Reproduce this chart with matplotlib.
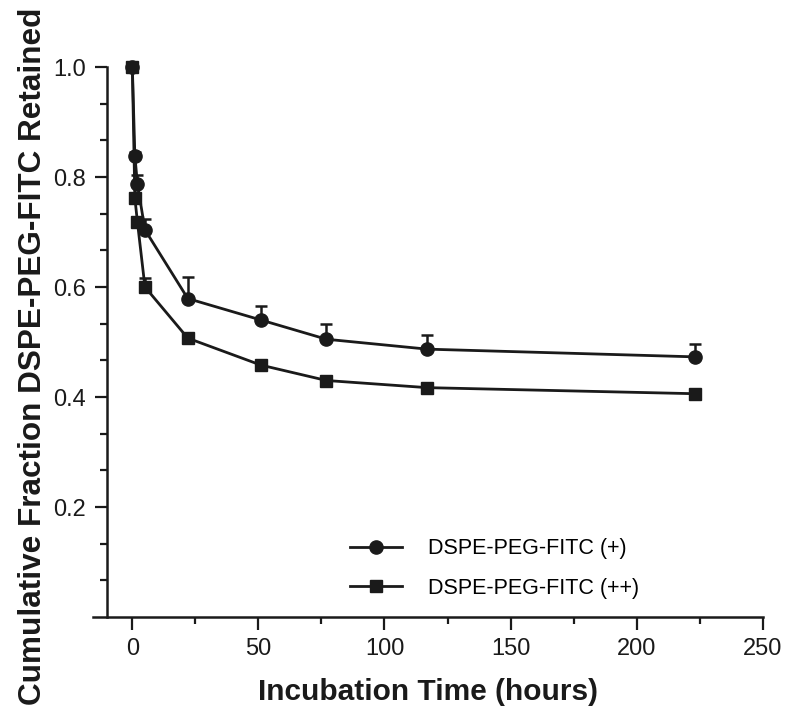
import matplotlib
matplotlib.use("Agg")
import matplotlib.pyplot as plt
import numpy as np
from matplotlib.ticker import MultipleLocator, FixedLocator
from matplotlib.lines import Line2D

# ---- data ----
time_h = [0, 1, 2, 5, 22, 51, 77, 117, 223]
plus_vals = [1.0, 0.839, 0.788, 0.704, 0.579, 0.540, 0.505, 0.487, 0.473]
plus_err = [0.0, 0.006, 0.015, 0.020, 0.039, 0.025, 0.028, 0.026, 0.023]
time_pp = [0, 1, 2, 5, 22, 51, 77, 117, 223]
pp_vals = [1.0, 0.762, 0.719, 0.600, 0.507, 0.458, 0.430, 0.417, 0.406]
pp_err = [0.0, 0.004, 0.008, 0.017, 0.005, 0.004, 0.004, 0.004, 0.004]
labels = ["DSPE-PEG-FITC (+)", "DSPE-PEG-FITC (++)"]
xlabel = "Incubation Time (hours)"
ylabel = "Cumulative Fraction DSPE-PEG-FITC Retained"

font = "Liberation Sans"
col = "#1a1a1a"
fig = plt.figure(figsize=(7.87, 7.16), dpi=100)
ax = fig.add_axes([93/787, 1 - 617/716, (762.7 - 93)/787, (617 - 67)/716])

for t, v, e, mk, ms in [(time_h, plus_vals, plus_err, "o", 9.5),
                        (time_pp, pp_vals, pp_err, "s", 9)]:
    cont = ax.errorbar(t, v, yerr=[np.zeros(len(e)), e], fmt="-" + mk,
                       color=col, ms=ms, lw=2, elinewidth=1.8, capsize=4,
                       capthick=1.8, zorder=3)
    for art in cont.get_children():
        art.set_clip_on(False)

ax.set_xlim(-15.6, 250)
ax.set_ylim(0, 1.0)
for s in ["top", "right"]:
    ax.spines[s].set_visible(False)
ax.spines["left"].set_position(("data", -10.2))
ax.spines["left"].set_bounds(0, 1.0)
for s in ["left", "bottom"]:
    ax.spines[s].set_linewidth(1.8)
    ax.spines[s].set_color(col)

ax.xaxis.set_major_locator(MultipleLocator(50))
ax.xaxis.set_minor_locator(MultipleLocator(25))
ax.yaxis.set_major_locator(FixedLocator([0.2, 0.4, 0.6, 0.8, 1.0]))
ax.yaxis.set_minor_locator(FixedLocator([k / 15 for k in range(1, 16) if k % 3 != 0]))
ax.tick_params(which="major", direction="out", length=9, width=1.6, color=col,
               labelsize=17, pad=6)
ax.tick_params(which="minor", direction="out", length=5, width=1.6, color=col)
for lab in ax.get_xticklabels() + ax.get_yticklabels():
    lab.set_fontfamily(font)
    lab.set_color(col)

ax.set_xlabel(xlabel, fontsize=21.5, fontweight="bold", family=font,
              labelpad=13, color=col)
fig.text(33/787, 1 - 356/716, ylabel, rotation=90, fontsize=22.7, fontweight="bold",
         family=font, ha="center", va="center", color=col)

handles = [Line2D([], [], color=col, lw=2, marker="o", ms=9.5),
           Line2D([], [], color=col, lw=2, marker="s", ms=9)]
leg = ax.legend(handles, labels, loc="upper left", bbox_to_anchor=(0.384, 0.143),
                frameon=False, prop={"family": font, "size": 15.5},
                handlelength=2.4, labelspacing=0.85, handletextpad=1.2,
                borderpad=0, borderaxespad=0)

fig.savefig("out.png", dpi=100)
